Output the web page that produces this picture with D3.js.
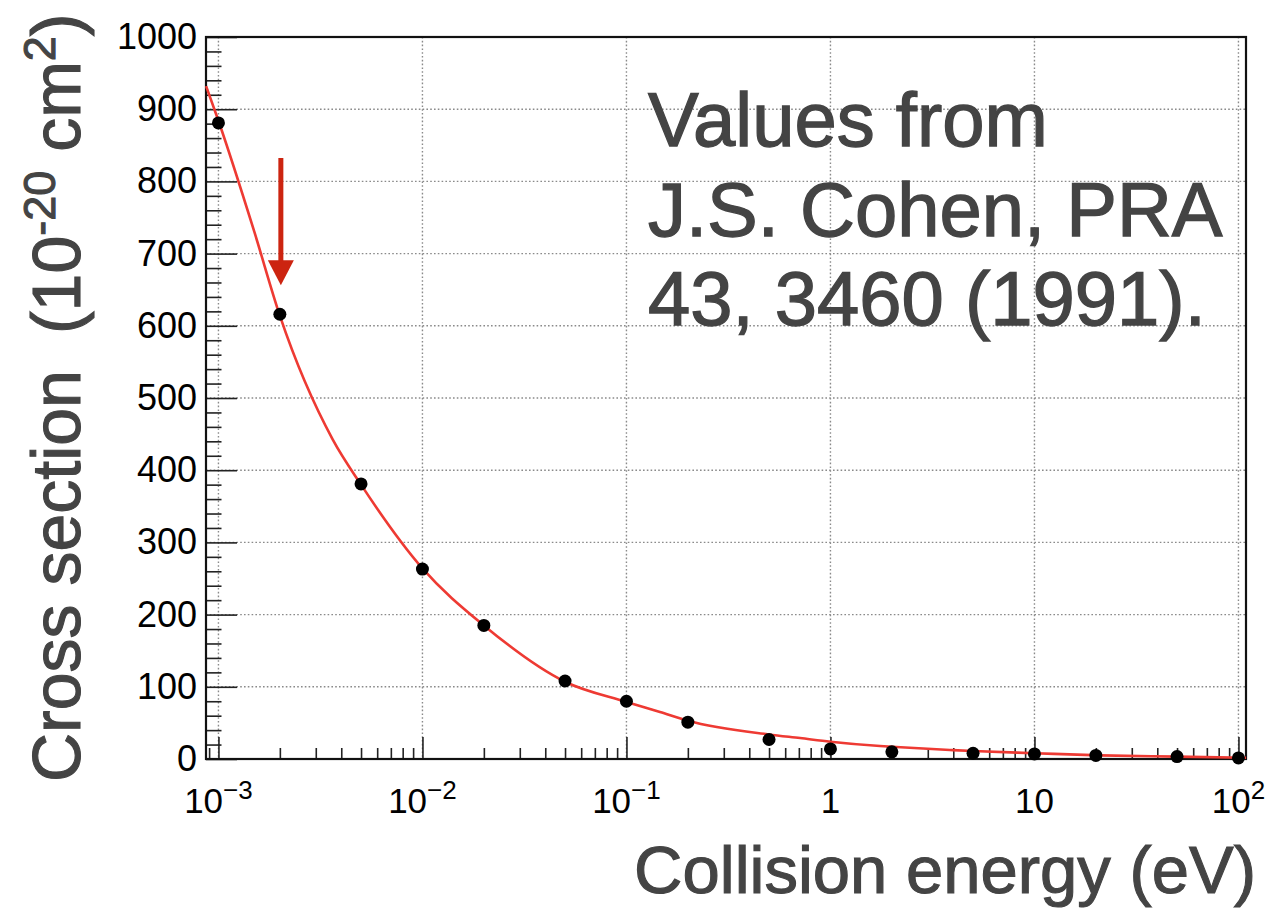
<!DOCTYPE html>
<html><head><meta charset="utf-8">
<script src="https://cdnjs.cloudflare.com/ajax/libs/d3/7.8.5/d3.min.js"></script>
<style>
html,body{margin:0;padding:0;background:#fff;}
svg{display:block;font-family:"Liberation Sans",Arial,Helvetica,sans-serif;}
</style></head>
<body><svg id="chart" width="1273" height="909"></svg>
<script>
// ---- data ----
const energies = [0.001, 0.002, 0.005, 0.01, 0.02, 0.05, 0.1, 0.2, 0.5, 1, 2, 5, 10, 20, 50, 100];
const crossSections = [881, 616, 381, 263, 185, 108, 80, 51, 27, 14, 10, 8, 7, 5, 3.3, 1.5];
const fitEnergies = [0.00087, 0.001, 0.0015, 0.002, 0.00364, 0.005, 0.01, 0.02, 0.05, 0.1, 0.146, 0.2, 0.5, 0.71, 1, 1.75, 2, 3.85, 5, 10, 21, 50, 109];
const fitValues   = [932, 884, 730, 614, 442, 380, 264, 185, 107, 79, 65, 53, 34, 29, 24, 18, 17, 12.5, 11, 8, 5, 3.3, 1.8];
const yTickValues = [0, 100, 200, 300, 400, 500, 600, 700, 800, 900, 1000];
const xTickValues = [0.001, 0.01, 0.1, 1, 10, 100];
const xTickBase = ["10", "10", "10", "1", "10", "10"];
const xTickExp  = ["−3", "−2", "−1", "", "", "2"];
const annotationLines = ["Values from", "J.S. Cohen, PRA", "43, 3460 (1991)."];
const arrowEnergy = 0.002;
const xTitle = "Collision energy (eV)";

// ---- layout ----
const svg = d3.select("#chart");
const L = 206, R = 1246, T = 37, B = 759;
const x = d3.scaleLog().domain([Math.pow(10, -3.061), Math.pow(10, 2.037)]).range([L, R]);
const y = d3.scaleLinear().domain([0, 1000]).range([B, T]);

// grid
const grid = svg.append("g").attr("stroke", "#8a8a8a").attr("stroke-width", 1.4).attr("stroke-dasharray", "1.6,2.2");
grid.selectAll("line.h").data(yTickValues.slice(1, -1)).join("line")
  .attr("x1", L).attr("x2", R).attr("y1", d => y(d)).attr("y2", d => y(d));
grid.selectAll("line.v").data(xTickValues).join("line")
  .attr("x1", d => x(d)).attr("x2", d => x(d)).attr("y1", T).attr("y2", B);

// minor tick values
const xMinor = [];
for (let e = -4; e <= 2; e++) for (let k = 2; k <= 9; k++) {
  const v = k * Math.pow(10, e);
  if (v > x.domain()[0] && v < x.domain()[1]) xMinor.push(v);
}
const yMinor = d3.range(0, 1001, 20).filter(v => v % 100 !== 0);

// axes (ticks inside)
const gx = svg.append("g").attr("transform", `translate(0,${B})`);
gx.call(d3.axisBottom(x).tickValues(xMinor).tickSize(-11).tickFormat(""));
const gx2 = svg.append("g").attr("transform", `translate(0,${B})`);
gx2.call(d3.axisBottom(x).tickValues(xTickValues).tickSize(-22).tickFormat(""));
const gy = svg.append("g").attr("transform", `translate(${L},0)`);
gy.call(d3.axisLeft(y).tickValues(yMinor).tickSize(-15.5).tickFormat(""));
const gy2 = svg.append("g").attr("transform", `translate(${L},0)`);
gy2.call(d3.axisLeft(y).tickValues(yTickValues).tickSize(-31).tickPadding(9).tickFormat(d3.format("d")));
[gx, gx2, gy, gy2].forEach(g => {
  g.selectAll(".domain").remove();
  g.selectAll(".tick line").attr("stroke", "#222").attr("stroke-width", 1.6);
});
gy2.selectAll(".tick text").attr("font-size", 36).attr("fill", "#000").attr("font-family", "Liberation Sans, Arial, sans-serif");

// x tick labels with superscripts
const xl = svg.append("g").attr("font-size", 35).attr("fill", "#000");
xTickValues.forEach((v, i) => {
  const t = xl.append("text").attr("x", x(v)).attr("y", 813).attr("text-anchor", "middle");
  t.append("tspan").text(xTickBase[i]);
  if (xTickExp[i]) t.append("tspan").attr("font-size", 26).attr("dy", -14).text(xTickExp[i]);
});

// frame
svg.append("rect").attr("x", L).attr("y", T).attr("width", R - L).attr("height", B - T)
  .attr("fill", "none").attr("stroke", "#111").attr("stroke-width", 2.2);

// fit curve
const line = d3.line().x((d, i) => x(fitEnergies[i])).y(d => y(d)).curve(d3.curveMonotoneX);
svg.append("path").datum(fitValues).attr("d", line)
  .attr("fill", "none").attr("stroke", "#ee3a33").attr("stroke-width", 2.6);

// data points
svg.append("g").selectAll("circle").data(energies).join("circle")
  .attr("cx", d => x(d)).attr("cy", (d, i) => y(crossSections[i])).attr("r", 6.5).attr("fill", "#000");

// arrow
const ai = energies.indexOf(arrowEnergy);
const ax = x(arrowEnergy) + 1, tipY = y(crossSections[ai]) - 29;
svg.append("line").attr("x1", ax).attr("x2", ax).attr("y1", 158).attr("y2", tipY - 22)
  .attr("stroke", "#cc2410").attr("stroke-width", 5);
svg.append("path").attr("d", `M${ax - 13},${tipY - 25}L${ax + 13},${tipY - 25}L${ax},${tipY}Z`).attr("fill", "#cc2410");

// annotation
const ann = svg.append("g").attr("font-size", 76).attr("fill", "#444")
  .attr("stroke", "#444").attr("stroke-width", 1.3);
annotationLines.forEach((s, i) => ann.append("text").attr("x", 648).attr("y", 146 + i * 89.5).text(s));

// axis titles
svg.append("text").attr("x", 1256).attr("y", 893).attr("text-anchor", "end")
  .attr("font-size", 67).attr("fill", "#444").attr("stroke", "#444").attr("stroke-width", 1.1).text(xTitle);
const yt = svg.append("text").attr("transform", "translate(80,782) rotate(-90)")
  .attr("font-size", 68).attr("fill", "#444").attr("stroke", "#444").attr("stroke-width", 1.1);
yt.append("tspan").text("Cross section");
yt.append("tspan").attr("dx", 36).text("(10");
yt.append("tspan").attr("font-size", 45).attr("dy", -25).text("-20");
yt.append("tspan").attr("dy", 25).text(" cm");
yt.append("tspan").attr("font-size", 45).attr("dy", -25).text("2");
yt.append("tspan").attr("dy", 25).text(")");
</script></body></html>
